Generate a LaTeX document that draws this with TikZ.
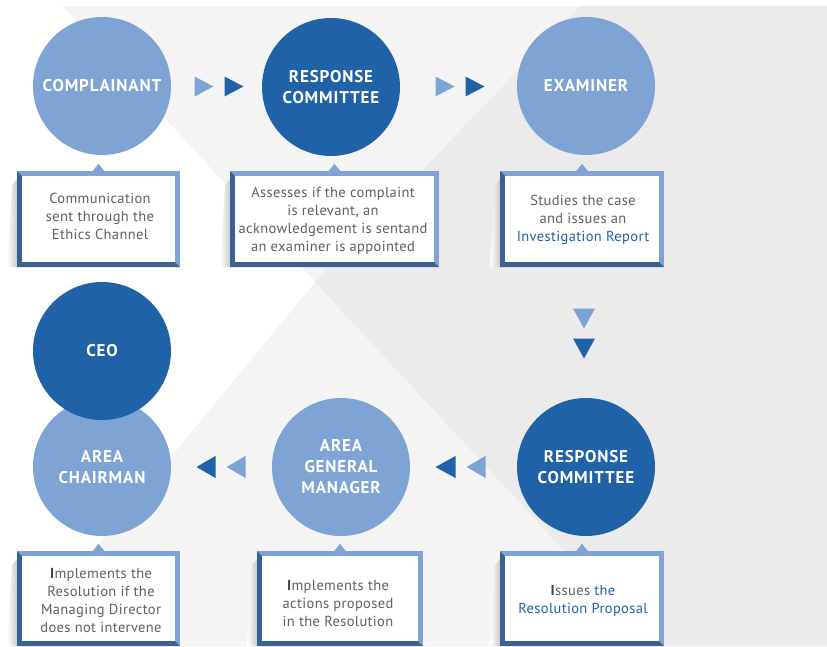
\documentclass[tikz,border=0pt]{standalone}
\usepackage{fontspec}
\setmainfont{PT Sans}
\newfontfamily\circfont[LetterSpace=5]{PT Sans}
\newfontfamily\boxfont[LetterSpace=2.5]{PT Sans}
\usetikzlibrary{calc}
\definecolor{lb}{HTML}{7EA4D5}
\definecolor{db}{HTML}{2062A8}
\definecolor{bdark}{HTML}{3B6291}
\definecolor{bgl}{HTML}{F4F4F4}
\definecolor{bgd}{HTML}{EBEBEB}
\definecolor{txt}{HTML}{5F5F5F}
\definecolor{txtd}{HTML}{444444}
\newcommand\bevelbox[5]{%
  \shade[left color=white,right color=black!20] (#1-10,#4) -- (#1-5,#2+14) -- (#1,#2+8) -- (#1,#4) -- cycle;
  \fill[lb] (#1,#2) rectangle (#3,#4);
  \fill[bdark] (#1,#2) -- (#1+5,#2+5) -- (#1+5,#4-5) -- (#3-5,#4-5) -- (#3,#4) -- (#1,#4) -- cycle;
  \fill[white] (#1+5,#2+5) rectangle (#3-5,#4-5);
  \node[inner sep=0pt,minimum width={(#3-#1)*1pt},minimum height={(#4-#2)*1pt}] (#5) at ({(#1+#3)/2},{(#2+#4)/2}) {};
  \fill[lb] ($(#5.north)+(-6,0.5)$) -- ($(#5.north)+(0,-7)$) -- ($(#5.north)+(6,0.5)$) -- cycle;
}
\newcommand\capI{\textcolor{txtd}{\textbf{I}}}
\begin{document}
\begin{tikzpicture}[x=1pt,y=-1pt,
  circ/.style={circle,minimum size=138pt,inner sep=0pt,text=white,
    font=\circfont\fontsize{17}{21}\selectfont\bfseries,align=center},
  lightc/.style={circ,fill=lb},
  darkc/.style={circ,fill=db},
  boxtxt/.style={font=\boxfont\fontsize{14.5}{18}\selectfont,text=txt,align=center,inner sep=0pt}
]
% background
\fill[white] (0,0) rectangle (827,646);
\useasboundingbox (0,0) rectangle (827,646);
\fill[bgl] (0,6) rectangle (827,646);
\fill[white] (0,6) -- (62,6) -- (315,282) -- (15,646) -- (0,646) -- cycle;
\fill[bgd] (580,6) -- (827,6) -- (827,646) -- (653,646) -- (315,282) -- cycle;

% boxes
\bevelbox{17}{171}{180}{267}{b1}
\bevelbox{230}{171}{439}{267}{b2}
\bevelbox{500}{171}{664}{267}{b3}
\bevelbox{17}{551}{180}{646}{b4}
\bevelbox{257}{551}{423}{646}{b5}
\bevelbox{500}{551}{664}{646}{b6}

% circles
\node[lightc] (c1) at (102,86) {COMPLAINANT};
\node[darkc] (c2) at (331,87) {RESPONSE\\COMMITTEE};
\node[lightc] (c3) at (586,86) {EXAMINER};
\node[lightc] (c5) at (102,467) {AREA\\CHAIRMAN};
\node[darkc] (c4) at (102,351) {CEO};
\node[lightc] (c6) at (341,467) {AREA\\GENERAL\\MANAGER};
\node[darkc] (c7) at (586,467) {RESPONSE\\COMMITTEE};

% box texts
\node[boxtxt] at (100,216) {Communication\\sent through the\\Ethics Channel};
\node[boxtxt] at (333,221) {Assesses if the complaint\\is relevant, an\\acknowledgement is sentand\\an examiner is appointed};
\node[boxtxt] at (583,220) {Studies the case\\and issues an\\\textcolor{db}{Investigation Report}};
\node[boxtxt] at (101,600.5) {\capI mplements the\\Resolution if the\\Managing Director\\does not intervene};
\node[boxtxt] at (338,604) {\capI mplements the\\actions proposed\\in the Resolution};
\node[boxtxt] at (583,601) {\capI ssues \textcolor{db}{the}\\\textcolor{db}{Resolution Proposal}};

% arrow pairs (right)
\coordinate (m1) at ($(c1.east)!0.5!(c2.west)$);
\fill[lb] ($(m1)+(-22,-10)$) -- ($(m1)+(-3,0)$) -- ($(m1)+(-22,10)$) -- cycle;
\fill[db] ($(m1)+(8,-10)$) -- ($(m1)+(27,0)$) -- ($(m1)+(8,10)$) -- cycle;
\coordinate (m2) at ($(c2.east)!0.5!(c3.west)$);
\fill[lb] ($(m2)+(-23,-10)$) -- ($(m2)+(-4,0)$) -- ($(m2)+(-23,10)$) -- cycle;
\fill[db] ($(m2)+(7,-10)$) -- ($(m2)+(26,0)$) -- ($(m2)+(7,10)$) -- cycle;
% arrow pair (down)
\coordinate (m3) at ($(b3.south)!0.5!(c7.north)$);
\fill[lb] ($(m3)+(-11,-24)$) -- ($(m3)+(11,-24)$) -- ($(m3)+(0,-4)$) -- cycle;
\fill[db] ($(m3)+(-11,6)$) -- ($(m3)+(11,6)$) -- ($(m3)+(0,26)$) -- cycle;
% arrow pairs (left)
\coordinate (m4) at ($(c7.west)!0.5!(c6.east)$);
\fill[db] ($(m4)+(-8,-11)$) -- ($(m4)+(-28,0)$) -- ($(m4)+(-8,11)$) -- cycle;
\fill[lb] ($(m4)+(22,-11)$) -- ($(m4)+(3,0)$) -- ($(m4)+(22,11)$) -- cycle;
\coordinate (m5) at ($(c6.west)!0.5!(c5.east)$);
\fill[db] ($(m5)+(-6,-11)$) -- ($(m5)+(-25,0)$) -- ($(m5)+(-6,11)$) -- cycle;
\fill[lb] ($(m5)+(24,-11)$) -- ($(m5)+(5,0)$) -- ($(m5)+(24,11)$) -- cycle;
\end{tikzpicture}
\end{document}
